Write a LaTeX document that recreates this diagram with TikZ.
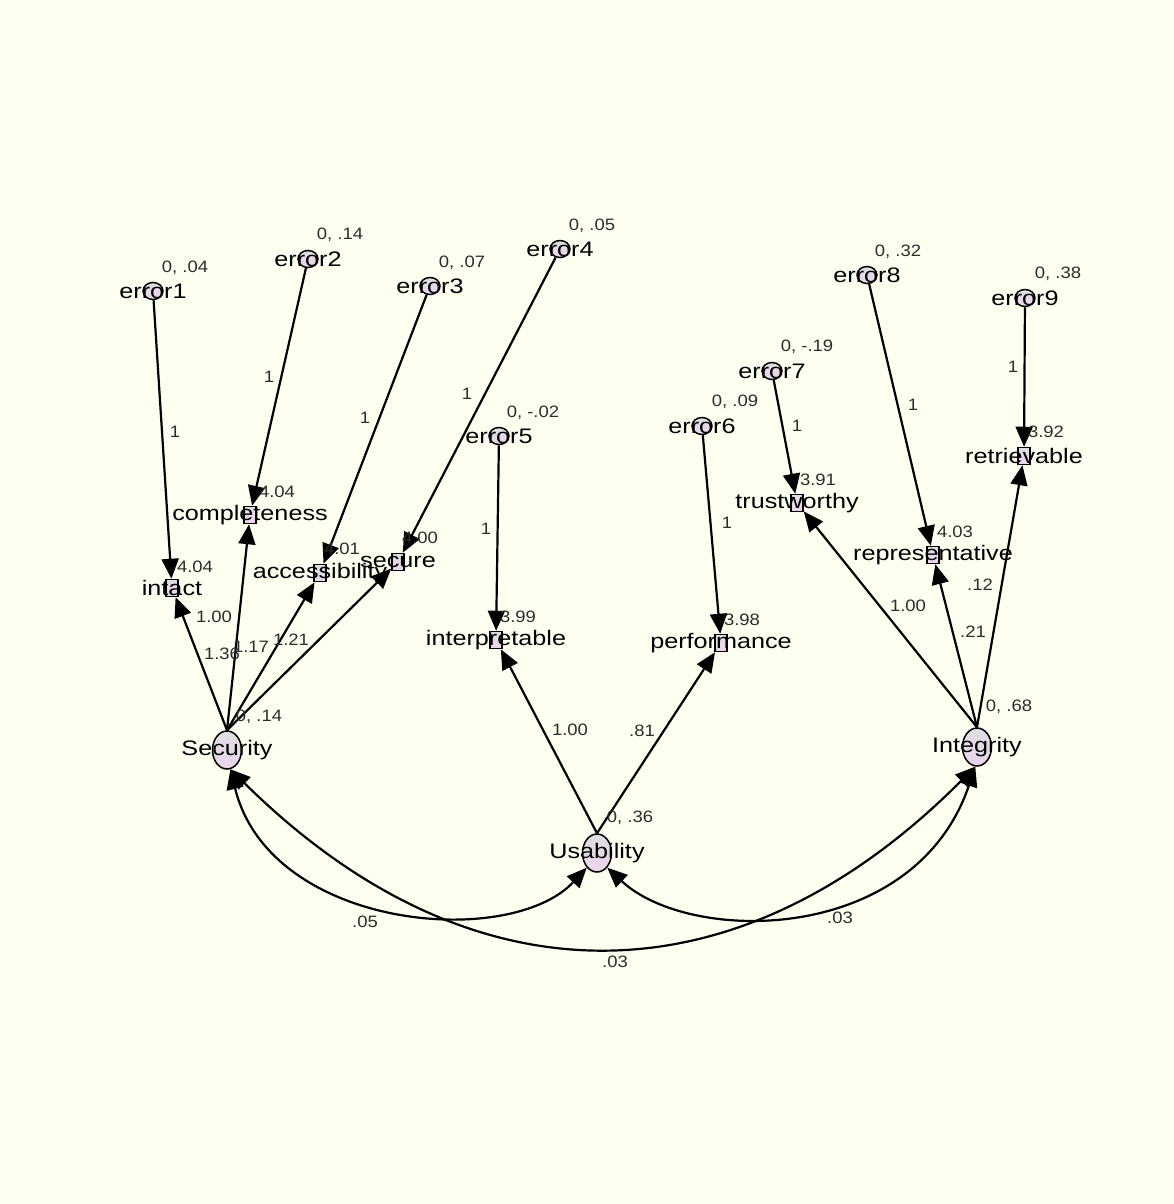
\documentclass[tikz,border=0pt]{standalone}
\usepackage{fontspec}
\setmainfont{Liberation Sans}
\newfontfamily\lblfont[FakeStretch=1.2]{Liberation Sans}
\newfontfamily\numfont[FakeStretch=1.12]{Liberation Sans}
\usetikzlibrary{shapes.geometric,arrows.meta}
\definecolor{bgc}{RGB}{253,255,240}
\definecolor{numc}{RGB}{45,45,45}
\definecolor{topc}{RGB}{222,222,224}
\definecolor{botc}{RGB}{236,212,238}
\begin{document}
\begin{tikzpicture}[x=1pt,y=-1pt,
 shapefill/.style={draw=black, line width=1.5pt, top color=topc, bottom color=botc},
 errnode/.style={shapefill, ellipse, minimum width=20pt, minimum height=17pt, inner sep=0pt},
 obsnode/.style={shapefill, rectangle, minimum width=12pt, minimum height=17pt, inner sep=0pt},
 latnode/.style={shapefill, ellipse, minimum width=29pt, minimum height=38pt, inner sep=0pt},
 lbl/.style={font=\lblfont\fontsize{21}{21}\selectfont, inner sep=0pt},
 num/.style={font=\numfont\fontsize{16.5}{16.5}\selectfont, text=numc, inner sep=0pt},
 arr/.style={line width=2.2pt, -{Triangle[length=20pt,width=17pt]}},
 cov/.style={line width=2.2pt, {Triangle[length=20pt,width=17pt]}-{Triangle[length=20pt,width=17pt]}}
]
\fill[bgc] (0,0) rectangle (1173,1204);
\useasboundingbox (0,0) rectangle (1173,1204);

% error terms
\node[errnode] (e1) at (153,291) {};
\node[errnode] (e2) at (308,259) {};
\node[errnode] (e3) at (430,286) {};
\node[errnode] (e4) at (560,249) {};
\node[errnode] (e5) at (499,436) {};
\node[errnode] (e6) at (702,426) {};
\node[errnode] (e7) at (772,371) {};
\node[errnode] (e8) at (867,275) {};
\node[errnode] (e9) at (1025,298) {};

% observed
\node[obsnode] (intact) at (172,588) {};
\node[obsnode] (compl) at (250,515) {};
\node[obsnode] (access) at (320,573) {};
\node[obsnode] (secure) at (398,562) {};
\node[obsnode] (interp) at (496,640) {};
\node[obsnode] (perf) at (721,643) {};
\node[obsnode] (trust) at (797,503) {};
\node[obsnode] (repr) at (933,555) {};
\node[obsnode] (retr) at (1024,456) {};

% latent
\node[latnode] (Security) at (227,750) {};
\node[latnode] (Usability) at (597,853) {};
\node[latnode] (Integrity) at (977,747) {};

% error paths
\draw[arr] (e1) -- (intact);
\draw[arr] (e2) -- (compl);
\draw[arr] (e3) -- (access);
\draw[arr] (e4) -- (secure);
\draw[arr] (e5) -- (interp);
\draw[arr] (e6) -- (perf);
\draw[arr] (e7) -- (trust);
\draw[arr] (e8) -- (repr);
\draw[arr] (e9) -- (retr);

% loadings
\draw[arr] (Security.north) -- (intact);
\draw[arr] (Security.north) -- (compl);
\draw[arr] (Security.north) -- (access);
\draw[arr] (Security.north) -- (secure);
\draw[arr] (Usability.north) -- (interp);
\draw[arr] (Usability.north) -- (perf);
\draw[arr] (Integrity.north) -- (trust);
\draw[arr] (Integrity.north) -- (repr);
\draw[arr] (Integrity.north) -- (retr);

% covariances
\draw[cov] (Security.-80) .. controls (270,930) and (510,950) .. (Usability.-125);
\draw[cov] (Security.-80) .. controls (473,1009) and (738,1005) .. (Integrity.-95);
\draw[cov] (Usability.-55) .. controls (690,945) and (915,945) .. (Integrity.-95);

% names
\node[lbl] (te1) at (e1) {error1};
\node[lbl] (te2) at (e2) {error2};
\node[lbl] (te3) at (e3) {error3};
\node[lbl] (te4) at (e4) {error4};
\node[lbl] (te5) at (e5) {error5};
\node[lbl] (te6) at (e6) {error6};
\node[lbl] (te7) at (e7) {error7};
\node[lbl] (te8) at (e8) {error8};
\node[lbl] (te9) at (e9) {error9};
\node[lbl] (tintact) at (intact) {intact};
\node[lbl] (tcompl) at (compl) {completeness};
\node[lbl] (taccess) at (access) {accessibility};
\node[lbl] (tsecure) at (secure) {secure};
\node[lbl] (tinterp) at (interp) {interpretable};
\node[lbl] (tperf) at (perf) {performance};
\node[lbl] (ttrust) at (trust) {trustworthy};
\node[lbl] (trepr) at (repr) {representative};
\node[lbl] (tretr) at (retr) {retrievable};
\node[lbl] (tsec) at (Security) {Security};
\node[lbl] (tusa) at (Usability) {Usability};
\node[lbl] (tint) at (Integrity) {Integrity};

% variances / intercepts
\node[num] (v1) at (185,268) {0, .04};
\node[num] (v2) at (340,235) {0, .14};
\node[num] (v3) at (462,263) {0, .07};
\node[num] (v4) at (592,226) {0, .05};
\node[num] (v5) at (533,413) {0, -.02};
\node[num] (v6) at (735,402) {0, .09};
\node[num] (v7) at (807,347) {0, -.19};
\node[num] (v8) at (898,252) {0, .32};
\node[num] (v9) at (1058,274) {0, .38};
\node[num] (i1) at (195,567) {4.04};
\node[num] (i2) at (277,492) {4.04};
\node[num] (i3) at (342,549) {4.01};
\node[num] (i4) at (420,538) {4.00};
\node[num] (i5) at (518,617) {3.99};
\node[num] (i6) at (742,620) {3.98};
\node[num] (i7) at (818,480) {3.91};
\node[num] (i8) at (955,532) {4.03};
\node[num] (i9) at (1046,432) {3.92};
\node[num] (vs) at (259,717) {0, .14};
\node[num] (vu) at (630,818) {0, .36};
\node[num] (vi) at (1009,707) {0, .68};

% path labels
\node[num] (p1) at (175,432) {1};
\node[num] (p2) at (269,377) {1};
\node[num] (p3) at (365,418) {1};
\node[num] (p4) at (467,394) {1};
\node[num] (p5) at (486,529) {1};
\node[num] (p6) at (727,523) {1};
\node[num] (p7) at (797,426) {1};
\node[num] (p8) at (913,405) {1};
\node[num] (p9) at (1013,367) {1};
\node[num] (l1) at (214,617) {1.00};
\node[num] (l2) at (222,654) {1.36};
\node[num] (l3) at (251,647) {1.17};
\node[num] (l4) at (291,640) {1.21};
\node[num] (l5) at (570,730) {1.00};
\node[num] (l6) at (642,731) {.81};
\node[num] (l7) at (908,606) {1.00};
\node[num] (l8) at (973,632) {.21};
\node[num] (l9) at (980,585) {.12};
\node[num] (c1) at (365,922) {.05};
\node[num] (c2) at (840,918) {.03};
\node[num] (c3) at (615,962) {.03};
\end{tikzpicture}
\end{document}
